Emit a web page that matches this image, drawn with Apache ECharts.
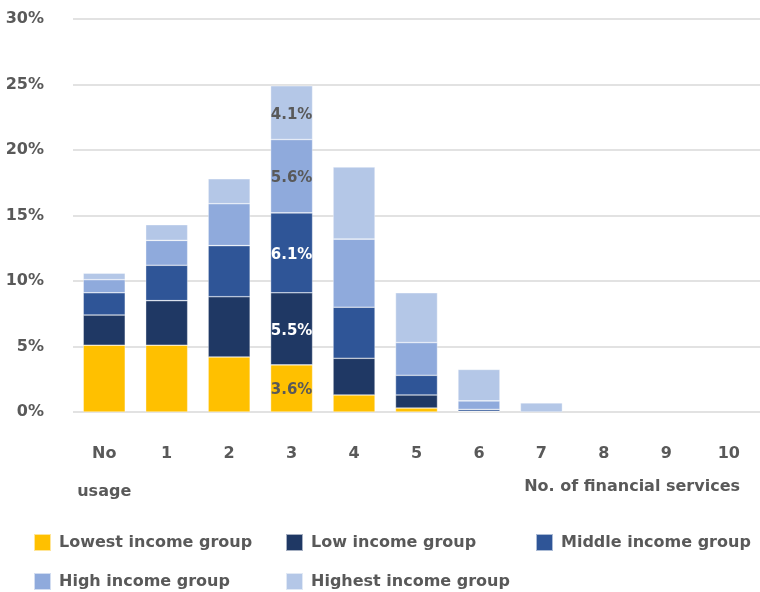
<!DOCTYPE html>
<html>
<head>
<meta charset="utf-8">
<script src="https://cdn.jsdelivr.net/npm/echarts@6/dist/echarts.min.js"></script>
<style>
  html, body { margin: 0; padding: 0; background: #ffffff; }
  #chart { width: 760px; height: 592px; }
</style>
</head>
<body>
<div id="chart"></div>
<script>
// Share of respondents by number of financial services used, split by income group (%)
const categories = ['No\nusage', '1', '2', '3', '4', '5', '6', '7', '8', '9', '10'];
const lowest  = [5.1, 5.1, 4.2, 3.6, 1.3, 0.3, 0.0, 0.0, 0, 0, 0];
const low     = [2.3, 3.4, 4.6, 5.5, 2.8, 1.0, 0.05, 0.0, 0, 0, 0];
const middle  = [1.7, 2.7, 3.9, 6.1, 3.9, 1.5, 0.15, 0.0, 0, 0, 0];
const high    = [1.0, 1.9, 3.2, 5.6, 5.2, 2.5, 0.65, 0.0, 0, 0, 0];
const highest = [0.5, 1.2, 1.9, 4.1, 5.5, 3.8, 2.4, 0.7, 0, 0, 0];
const yTicks = [0, 5, 10, 15, 20, 25, 30];

const seriesNames = ['Lowest income group', 'Low income group', 'Middle income group', 'High income group', 'Highest income group'];
const seriesValues = [lowest, low, middle, high, highest];
const colors = ['#FFC000', '#1F3864', '#2F5597', '#8FAADC', '#B4C7E7'];
// label colour for the value tags on the "3" column
const labelColors = ['#595959', '#ffffff', '#ffffff', '#595959', '#595959'];
const labelledIndex = 3;

const textGrey = '#595959';
const font = '"DejaVu Sans", Verdana, sans-serif';

const series = seriesNames.map((name, i) => ({
  name,
  type: 'bar',
  stack: 'total',
  barWidth: 42,
  itemStyle: { color: colors[i], borderColor: 'rgba(255,255,255,0.6)', borderWidth: 0.6 },
  data: seriesValues[i].map((v, j) => ({
    // empty segments are skipped so no hairline is drawn at zero
    value: v > 0 ? v : '-',
    label: {
      show: j === labelledIndex,
      position: 'inside',
      formatter: v.toFixed(1) + '%',
      color: labelColors[i],
      fontFamily: font,
      fontWeight: 'bold',
      fontSize: 15,
      offset: [0, 2]
    }
  }))
}));

// legend laid out as a two-row grid of fixed columns
const legendPos = [
  { left: 33, top: 533 },
  { left: 285, top: 533 },
  { left: 535, top: 533 },
  { left: 33, top: 572 },
  { left: 285, top: 572 }
];
const legends = seriesNames.map((name, i) => ({
  data: [name],
  left: legendPos[i].left,
  top: legendPos[i].top,
  itemWidth: 17,
  itemHeight: 17,
  itemGap: 0,
  icon: 'rect',
  selectedMode: false,
  padding: 0,
  textStyle: {
    color: textGrey,
    fontFamily: font,
    fontWeight: 'bold',
    fontSize: 16,
    padding: [0, 0, 0, 3]
  }
}));

const chart = echarts.init(document.getElementById('chart'), null, { renderer: 'canvas' });
chart.setOption({
  animation: false,
  backgroundColor: '#ffffff',
  grid: { left: 73, right: 0, top: 19, bottom: 180, containLabel: false },
  legend: legends,
  xAxis: {
    type: 'category',
    data: categories,
    axisLine: { show: false },
    axisTick: { show: false },
    axisLabel: {
      interval: 0,
      color: textGrey,
      fontFamily: font,
      fontWeight: 'bold',
      fontSize: 16,
      margin: 23,
      lineHeight: 38,
      verticalAlign: 'top'
    }
  },
  yAxis: {
    type: 'value',
    min: 0,
    max: 30,
    interval: 5,
    axisLine: { show: false },
    axisTick: { show: false },
    splitLine: { lineStyle: { color: '#d9d9d9', width: 1.5 } },
    axisLabel: {
      color: textGrey,
      fontFamily: font,
      fontWeight: 'bold',
      fontSize: 16,
      margin: 29,
      formatter: v => (yTicks.includes(v) ? v + '%' : '')
    }
  },
  graphic: [{
    type: 'text',
    right: 20,
    top: 479,
    style: {
      text: 'No. of financial services',
      fill: textGrey,
      font: 'bold 16px ' + font
    }
  }],
  series
});
</script>
</body>
</html>
